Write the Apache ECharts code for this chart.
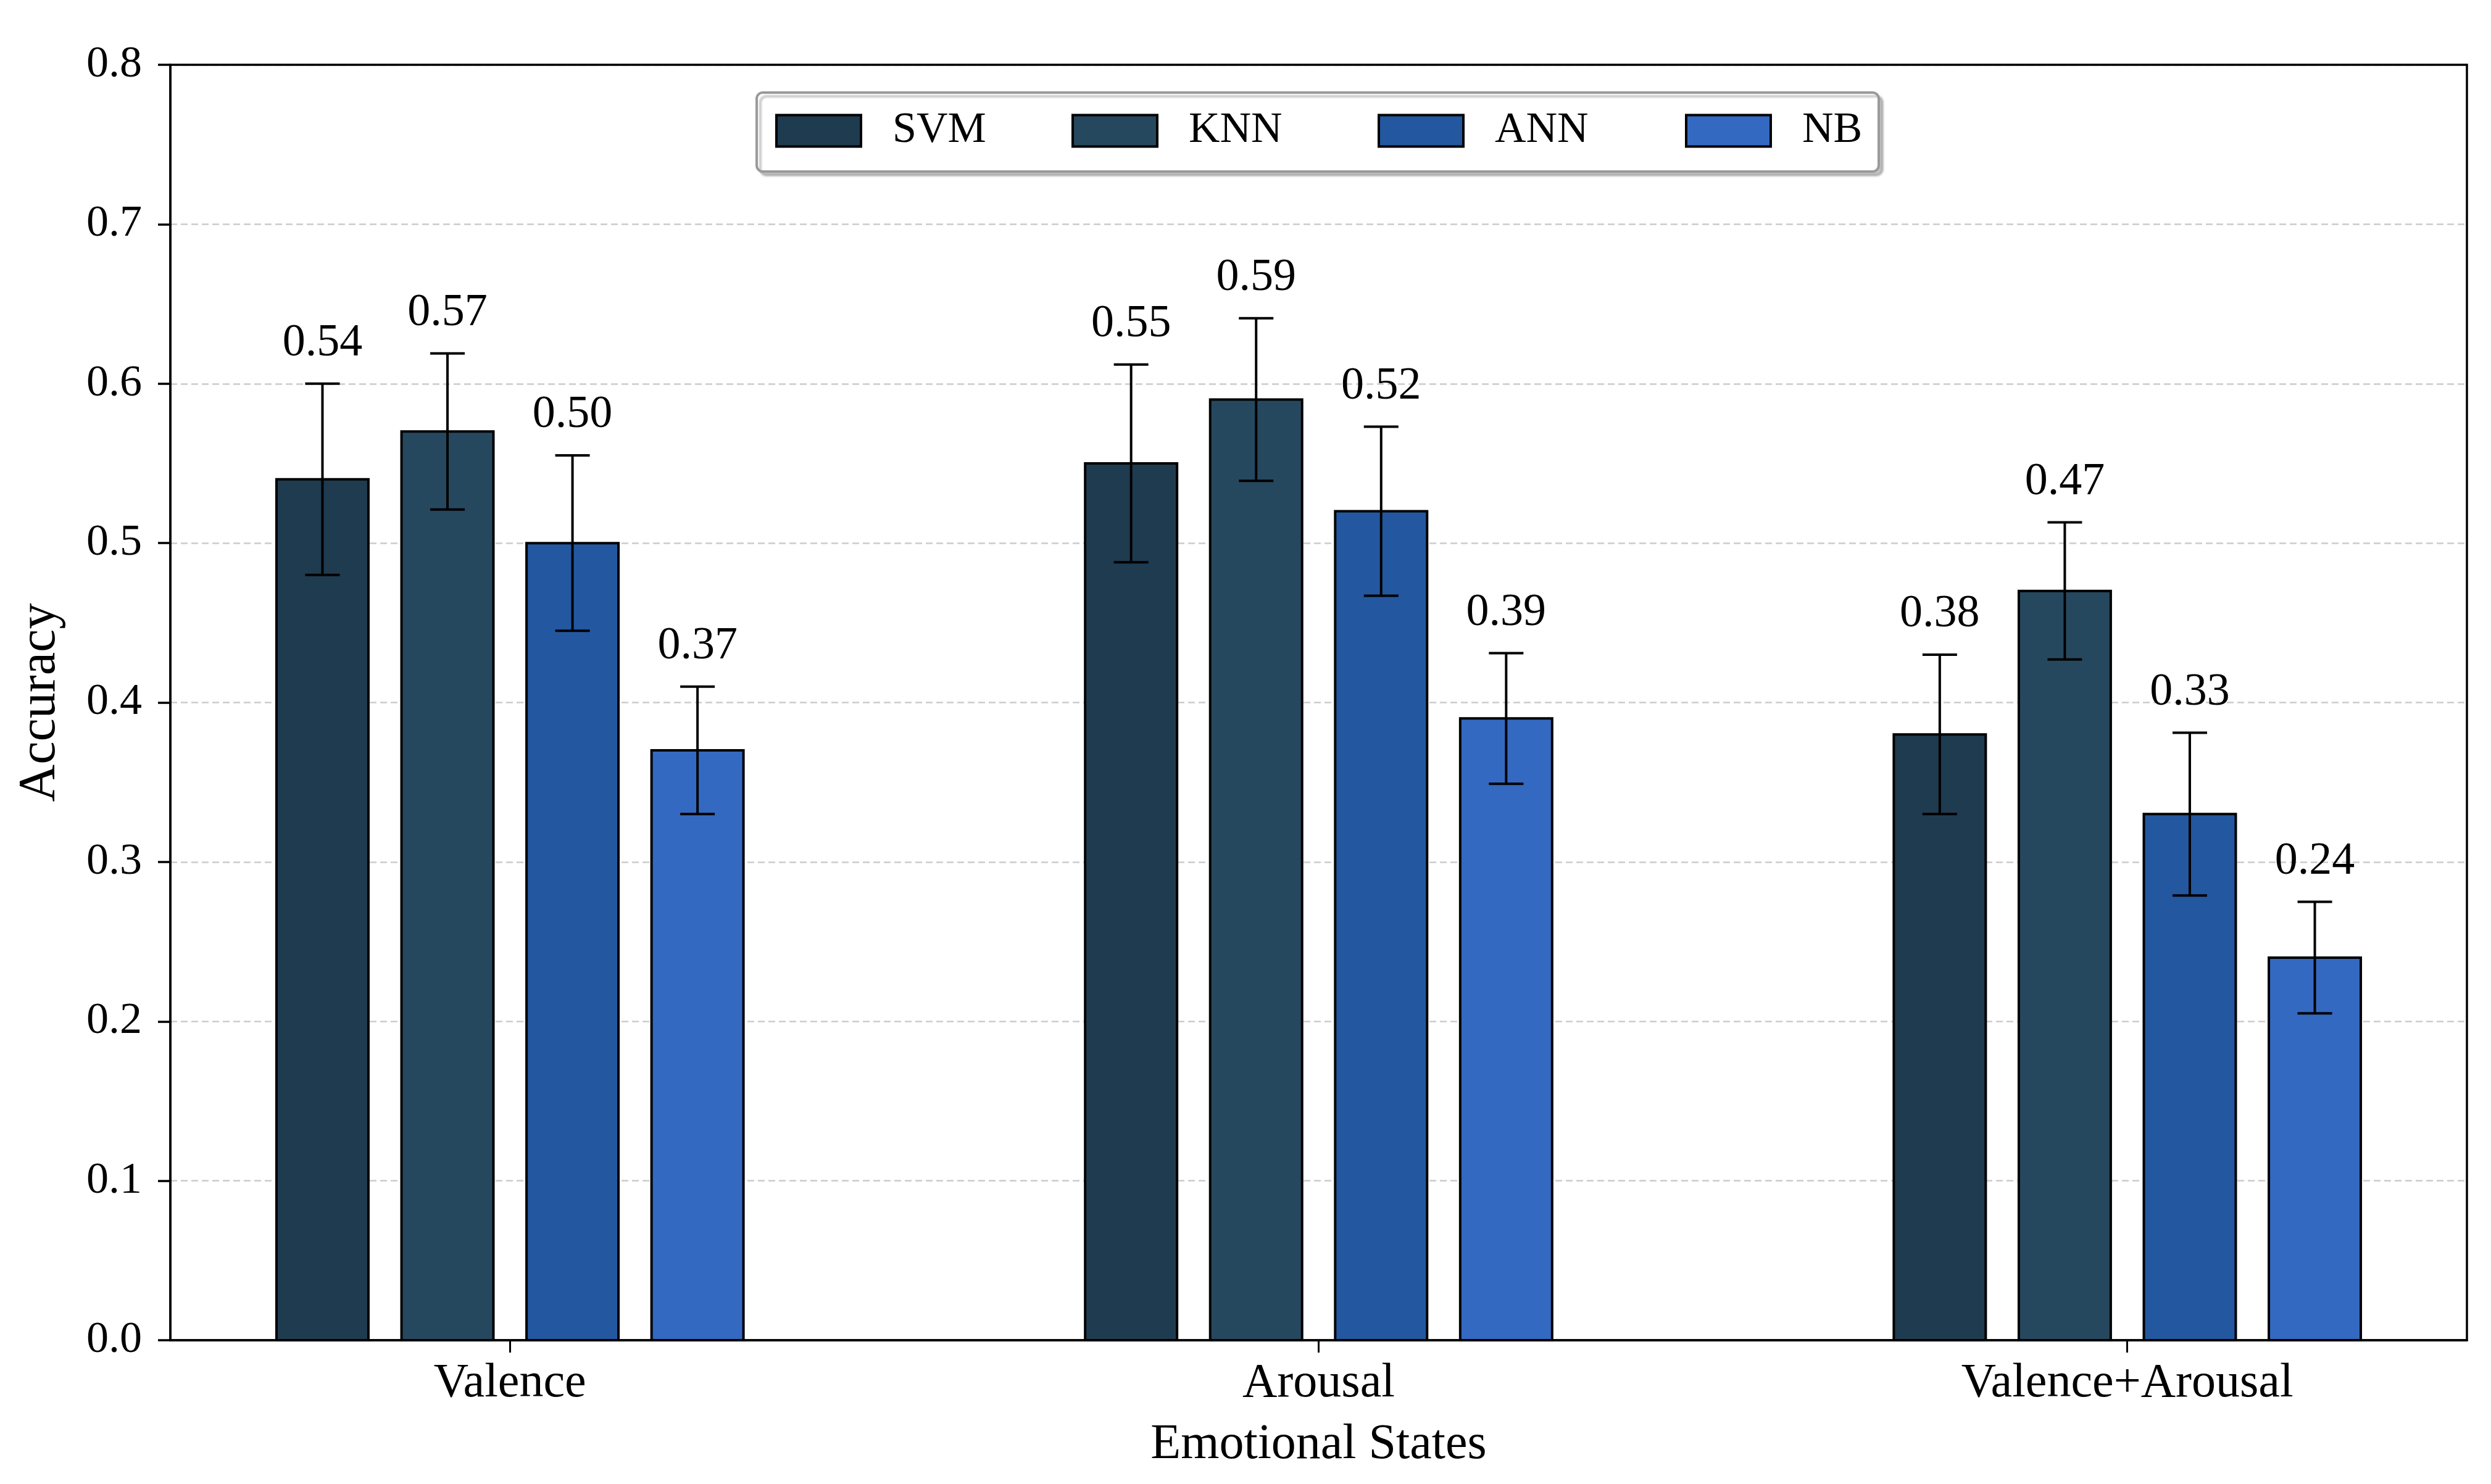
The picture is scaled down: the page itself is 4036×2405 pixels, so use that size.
<!DOCTYPE html>
<html>
<head>
<meta charset="utf-8">
<script src="https://cdn.jsdelivr.net/npm/echarts@6/dist/echarts.min.js"></script>
<style>
html,body{margin:0;padding:0;background:#fff;}
#c{width:4036px;height:2405px;}
</style>
</head>
<body>
<div id="c"></div>
<script>
// ---- data ----
const categories = ['Valence', 'Arousal', 'Valence+Arousal'];
const models = ['SVM', 'KNN', 'ANN', 'NB'];
const svmAcc = [0.54, 0.55, 0.38];
const svmErr = [0.06, 0.062, 0.05];
const knnAcc = [0.57, 0.59, 0.47];
const knnErr = [0.049, 0.051, 0.043];
const annAcc = [0.50, 0.52, 0.33];
const annErr = [0.055, 0.053, 0.051];
const nbAcc = [0.37, 0.39, 0.24];
const nbErr = [0.04, 0.041, 0.035];
const yTicks = [0.0, 0.1, 0.2, 0.3, 0.4, 0.5, 0.6, 0.7, 0.8];

// ---- style ----
const colors = ['#1f3b50', '#26485f', '#2358a0', '#3469c1'];
const FONT = 'Liberation Serif';
const BW = 0.1137;       // bar width in x units
const STEP = 0.1546;     // bar spacing in x units
const accs = [svmAcc, knnAcc, annAcc, nbAcc];
const errs = [svmErr, knnErr, annErr, nbErr];

function makeRender(si) {
  return function (params, api) {
    const gi = api.value(0), v = api.value(1), e = api.value(2);
    const xc = gi + (si - 1.5) * STEP;
    const tl = api.coord([xc - BW / 2, v]);
    const br = api.coord([xc + BW / 2, 0]);
    const c = api.coord([xc, v]);
    const hi = api.coord([xc, v + e]);
    const lo = api.coord([xc, v - e]);
    const cap = 28;
    const ls = { stroke: '#000', lineWidth: 4 };
    return {
      type: 'group',
      children: [
        { type: 'rect', shape: { x: tl[0], y: tl[1], width: br[0] - tl[0], height: br[1] - tl[1] },
          style: { fill: colors[si], stroke: '#000', lineWidth: 4 } },
        { type: 'line', shape: { x1: c[0], y1: hi[1], x2: c[0], y2: lo[1] }, style: ls },
        { type: 'line', shape: { x1: c[0] - cap, y1: hi[1], x2: c[0] + cap, y2: hi[1] }, style: ls },
        { type: 'line', shape: { x1: c[0] - cap, y1: lo[1], x2: c[0] + cap, y2: lo[1] }, style: ls },
        { type: 'text', x: c[0], y: hi[1] - 28,
          style: { text: v.toFixed(2), fill: '#000', font: '74px "' + FONT + '"', align: 'center', verticalAlign: 'bottom' } }
      ]
    };
  };
}

const series = models.map((m, si) => ({
  name: m,
  type: 'custom',
  itemStyle: { color: colors[si], borderColor: '#000', borderWidth: 3 },
  renderItem: makeRender(si),
  encode: { x: 0, y: 1 },
  data: categories.map((cat, gi) => [gi, accs[si][gi], errs[si][gi]]),
  z: 3
}));

const legendLefts = [1251, 1731, 2227, 2725];
const legends = models.map((m, i) => ({
  data: [m],
  left: legendLefts[i],
  top: 172,
  icon: 'rect',
  itemWidth: 137,
  itemHeight: 51,
  itemStyle: { borderColor: '#000', borderWidth: 4 },
  textStyle: { fontFamily: FONT, fontSize: 70, color: '#000', padding: [0, 0, 0, 46] },
  selectedMode: false,
  z: 10
}));

const chart = echarts.init(document.getElementById('c'), null, { renderer: 'canvas' });
chart.setOption({
  backgroundColor: '#fff',
  animation: false,
  grid: { left: 276, right: 39, top: 105, bottom: 233, show: true, borderColor: '#000', borderWidth: 3.5, backgroundColor: 'transparent', z: 4 },
  legend: legends,
  graphic: [{
    type: 'rect', left: 1224, top: 148, z: 5,
    shape: { width: 1818, height: 128, r: 10 },
    style: { fill: '#fff', stroke: '#9a9a9a', lineWidth: 4, shadowColor: 'rgba(0,0,0,0.22)', shadowOffsetX: 6, shadowOffsetY: 6, shadowBlur: 3 }
  }],
  xAxis: {
    type: 'value', min: -0.42, max: 2.42,
    name: 'Emotional States', nameLocation: 'middle', nameGap: 130,
    nameTextStyle: { fontFamily: FONT, fontSize: 80, color: '#000' },
    axisLine: { show: true, onZero: false, lineStyle: { color: '#000', width: 3.5 } },
    axisTick: { show: true, customValues: [0, 1, 2], length: 20, lineStyle: { color: '#000', width: 3 } },
    axisLabel: { show: true, customValues: [0, 1, 2], margin: 32, fontFamily: FONT, fontSize: 78, color: '#000',
      formatter: v => categories[Math.round(v)] },
    splitLine: { show: false }
  },
  yAxis: {
    type: 'value', min: 0, max: 0.8, interval: 0.1,
    name: 'Accuracy', nameLocation: 'middle', nameGap: 168,
    nameTextStyle: { fontFamily: FONT, fontSize: 84, color: '#000' },
    axisLine: { show: true, onZero: false, lineStyle: { color: '#000', width: 3.5 } },
    axisTick: { show: true, length: 20, lineStyle: { color: '#000', width: 3.5 } },
    axisLabel: { margin: 46, fontFamily: FONT, fontSize: 72, color: '#000', formatter: v => v.toFixed(1) },
    splitLine: { show: true, lineStyle: { color: '#cccccc', width: 2.5, type: [11, 6] } }
  },
  series: series
});
</script>
</body>
</html>
